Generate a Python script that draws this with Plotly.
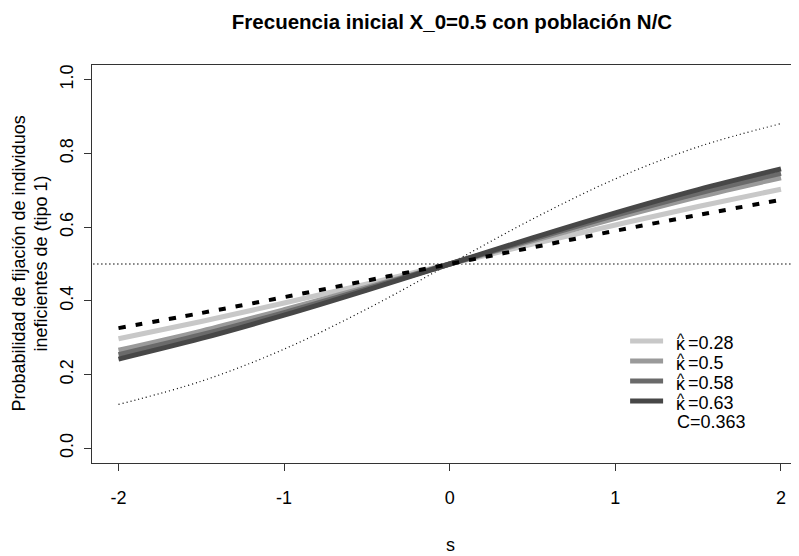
import plotly.graph_objects as go

s_vals = [-2.0, -1.5, -1.0, -0.5, 0.0, 0.5, 1.0, 1.5, 2.0]

# values (curves are symmetric around 0.5)
k028 = [0.297, 0.344, 0.394, 0.446, 0.5, 0.554, 0.606, 0.656, 0.703]
k050 = [0.266, 0.318, 0.376, 0.437, 0.5, 0.563, 0.624, 0.682, 0.734]
k058 = [0.254, 0.308, 0.368, 0.433, 0.5, 0.567, 0.632, 0.692, 0.746]
k063 = [0.242, 0.298, 0.361, 0.429, 0.5, 0.571, 0.639, 0.702, 0.758]
c_curve = [0.326, 0.367, 0.410, 0.455, 0.5, 0.545, 0.590, 0.633, 0.674]
dotted_curve = [0.119, 0.182, 0.269, 0.378, 0.5, 0.622, 0.731, 0.818, 0.881]
ref_level = [0.5, 0.5]
ref_s = [-2.2, 2.2]

kappa_values = ["0.28", "0.5", "0.58", "0.63"]
kappa_series = [k028, k050, k058, k063]
kappa_colors = ["#c8c8c8", "#9a9a9a", "#6a6a6a", "#474747"]
c_label = "C=0.363"

x_ticks = [-2, -1, 0, 1, 2]
x_ticktext = ["-2", "-1", "0", "1", "2"]
y_ticks = [0.0, 0.2, 0.4, 0.6, 0.8, 1.0]
y_ticktext = ["0.0", "0.2", "0.4", "0.6", "0.8", "1.0"]

FONT = "Liberation Sans, Arial, sans-serif"
FS = 18

# page body has an 8px margin; figure sized to fit the window exactly
OFF = 8
W, H = 799 - OFF, 556 - OFF
L, T, B = 91.5 - OFF, 65 - OFF, 556 - 463
PW, PH = W - L, H - T - B


def px(xs):  # screen x -> paper x
    return (xs - OFF - L) / PW


def py(ys):  # screen y -> paper y
    return (H - B - (ys - OFF)) / PH


fig = go.Figure()

fig.add_trace(go.Scatter(x=ref_s, y=ref_level, mode="lines",
                         line=dict(color="black", width=1.5, dash="1px,3px"),
                         showlegend=False, hoverinfo="skip"))
fig.add_trace(go.Scatter(x=s_vals, y=dotted_curve, mode="lines",
                         line=dict(color="black", width=1.2, dash="1px,3px", shape="spline"),
                         showlegend=False, hoverinfo="skip"))

for kv, ys, col in zip(kappa_values, kappa_series, kappa_colors):
    fig.add_trace(go.Scatter(x=s_vals, y=ys, mode="lines", name="κ̂=" + kv,
                             line=dict(color=col, width=5, shape="spline"),
                             showlegend=False))

fig.add_trace(go.Scatter(x=s_vals, y=c_curve, mode="lines", name=c_label,
                         line=dict(color="black", width=4, dash="7px,10px", shape="spline"),
                         showlegend=False))

shapes = []
annotations = []
leg_y = [341, 361, 381, 401]
for yy, kv, col in zip(leg_y, kappa_values, kappa_colors):
    shapes.append(dict(type="line", xref="paper", yref="paper",
                       x0=px(630), x1=px(663), y0=py(yy), y1=py(yy),
                       line=dict(color=col, width=5)))
    annotations.append(dict(text="κ", x=px(680.5), y=py(yy + 3), xref="paper", yref="paper",
                            xanchor="center", yanchor="middle", showarrow=False,
                            font=dict(size=FS)))
    annotations.append(dict(text="^", x=px(680.5), y=py(yy - 3), xref="paper", yref="paper",
                            xanchor="center", yanchor="middle", showarrow=False,
                            font=dict(size=FS - 3)))
    annotations.append(dict(text="=" + kv, x=px(686), y=py(yy + 2), xref="paper", yref="paper",
                            xanchor="left", yanchor="middle", showarrow=False,
                            font=dict(size=FS)))
annotations.append(dict(text=c_label, x=px(675), y=py(422), xref="paper", yref="paper",
                        xanchor="left", yanchor="middle", showarrow=False,
                        font=dict(size=FS)))
annotations.append(dict(text="s", x=px(450), y=py(545), xref="paper", yref="paper",
                        xanchor="center", yanchor="middle", showarrow=False,
                        font=dict(size=FS)))
annotations.append(dict(text="Probabilidad de fijación de individuos", x=px(18), y=py(264),
                        xref="paper", yref="paper", xanchor="center", yanchor="middle",
                        showarrow=False, textangle=-90, font=dict(size=FS)))
annotations.append(dict(text="ineficientes de (tipo 1)", x=px(40), y=py(264),
                        xref="paper", yref="paper", xanchor="center", yanchor="middle",
                        showarrow=False, textangle=-90, font=dict(size=FS)))

fig.update_layout(
    width=W, height=H,
    margin=dict(l=L, r=0, t=T, b=B, pad=0),
    paper_bgcolor="white", plot_bgcolor="white",
    font=dict(family=FONT, size=FS, color="black"),
    title=dict(text="<b>Frecuencia inicial X_0=0.5 con población N/C</b>",
               x=(452 - OFF) / W, xref="container", xanchor="center",
               y=1 - (22 - OFF) / H, yref="container", yanchor="middle",
               font=dict(family=FONT, size=20.5, color="black")),
    showlegend=False,
    shapes=shapes,
    annotations=annotations,
    xaxis=dict(range=[-2.16, (799 - 450) / 165.5], tickvals=x_ticks, ticktext=x_ticktext,
               ticks="outside", ticklen=7, tickwidth=1, tickcolor="#333333",
               showline=True, linecolor="#333333", linewidth=1, mirror=True,
               showgrid=False, zeroline=False, ticklabelstandoff=11,
               tickfont=dict(size=FS)),
    yaxis=dict(range=[-0.04, 1.04], tickvals=y_ticks, ticktext=y_ticktext,
               ticks="outside", ticklen=7, tickwidth=1, tickcolor="#333333",
               showline=True, linecolor="#333333", linewidth=1, mirror=False,
               showgrid=False, zeroline=False, tickangle=-90,
               ticklabelstandoff=4, tickfont=dict(size=FS)),
)

fig.write_html("out.html")
